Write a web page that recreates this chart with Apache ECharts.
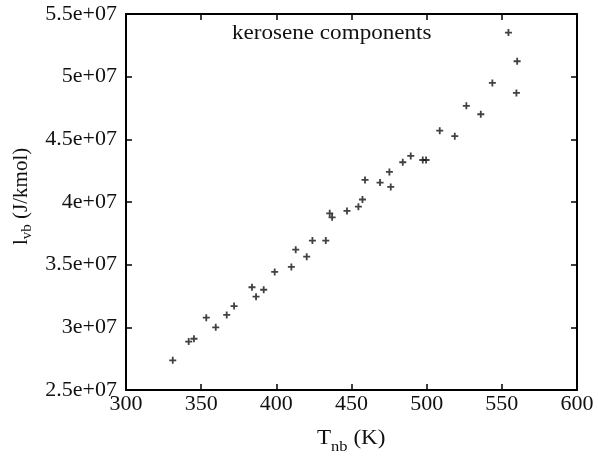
<!DOCTYPE html>
<html>
<head>
<meta charset="utf-8">
<script src="https://cdn.jsdelivr.net/npm/echarts@6/dist/echarts.min.js"></script>
<style>
  html, body { margin: 0; padding: 0; background: #fff; }
  #chart { width: 598px; height: 458px; }
</style>
</head>
<body>
<div id="chart"></div>
<script>
// Normal boiling temperature of each kerosene component (K)
var boilingT = [331.1, 341.7, 345.2, 353.4, 359.7, 367.0, 371.9, 383.8, 386.5, 391.6,
  398.9, 410.0, 412.9, 420.2, 424.0, 432.9, 435.5, 437.1, 447.0, 454.6,
  457.3, 459.0, 469.0, 475.2, 476.1, 484.1, 489.4, 497.4, 499.6, 508.7,
  518.7, 526.4, 536.0, 543.7, 554.4, 559.7, 560.2];
// Latent heat of vaporisation at the normal boiling point (J/kmol)
var latentHeat = [2.737e7, 2.886e7, 2.909e7, 3.077e7, 3.000e7, 3.099e7, 3.170e7, 3.320e7, 3.245e7, 3.300e7,
  3.442e7, 3.482e7, 3.620e7, 3.564e7, 3.692e7, 3.692e7, 3.910e7, 3.878e7, 3.929e7, 3.963e7,
  4.020e7, 4.176e7, 4.155e7, 4.240e7, 4.120e7, 4.317e7, 4.368e7, 4.335e7, 4.335e7, 4.569e7,
  4.525e7, 4.767e7, 4.700e7, 4.950e7, 5.352e7, 4.870e7, 5.123e7];

var xTicks = [300, 350, 400, 450, 500, 550, 600];
var yTicks = [2.5e7, 3e7, 3.5e7, 4e7, 4.5e7, 5e7, 5.5e7];

var FONT = 'Liberation Serif';
var FS = 22;

var points = boilingT.map(function (t, i) { return [t, latentHeat[i]]; });

function sciLabel(v) {
  return (Math.round(v / 1e6) / 10) + 'e+07';
}

var frameLine = { show: true, onZero: false, lineStyle: { color: '#000', width: 2 } };
var innerTick = { show: true, inside: true, length: 6, lineStyle: { color: '#000', width: 1.5 } };

var chart = echarts.init(document.getElementById('chart'), null, { renderer: 'canvas' });
chart.setOption({
  animation: false,
  backgroundColor: '#fff',
  grid: { left: 126, right: 21, top: 14, bottom: 68 },
  xAxis: [{
    type: 'value', min: xTicks[0], max: xTicks[xTicks.length - 1], interval: 50,
    axisLine: frameLine, axisTick: innerTick, splitLine: { show: false },
    axisLabel: { color: '#111', fontFamily: FONT, fontSize: FS, margin: 3 }
  }, {
    type: 'value', position: 'top', min: xTicks[0], max: xTicks[xTicks.length - 1], interval: 50,
    axisLine: frameLine, axisTick: innerTick, splitLine: { show: false },
    axisLabel: { show: false }
  }],
  yAxis: [{
    type: 'value', min: yTicks[0], max: yTicks[yTicks.length - 1], interval: 5e6,
    axisLine: frameLine, axisTick: innerTick, splitLine: { show: false },
    axisLabel: { color: '#111', fontFamily: FONT, fontSize: FS, margin: 9, formatter: sciLabel }
  }, {
    type: 'value', position: 'right', min: yTicks[0], max: yTicks[yTicks.length - 1], interval: 5e6,
    axisLine: frameLine, axisTick: innerTick, splitLine: { show: false },
    axisLabel: { show: false }
  }],
  series: [{
    type: 'scatter',
    data: points,
    symbol: 'path://M2.6,0h1.8v7h-1.8zM0,2.6h7v1.8h-7z',
    symbolSize: 7,
    itemStyle: { color: '#111' }
  }],
  graphic: [{
    type: 'text', x: 232, y: 23, scaleX: 1.1,
    style: { text: 'kerosene components', fill: '#111', font: '21px ' + FONT }
  }, {
    type: 'text', x: 317, y: 428, scaleX: 1.1,
    style: {
      text: '{m|T}{s|nb}{m| (K)}',
      rich: {
        m: { fontFamily: FONT, fontSize: 21, fill: '#111', verticalAlign: 'top' },
        s: { fontFamily: FONT, fontSize: 15, fill: '#111', padding: [12, 0, 0, 0] }
      }
    }
  }, {
    type: 'text', x: 8, y: 245, rotation: Math.PI / 2,
    style: {
      text: '{m|l}{s|vb}{m| (J/kmol)}',
      rich: {
        m: { fontFamily: FONT, fontSize: 21, fill: '#111' },
        s: { fontFamily: FONT, fontSize: 15, fill: '#111', padding: [12, 0, 0, 0] }
      }
    }
  }]
});
</script>
</body>
</html>
